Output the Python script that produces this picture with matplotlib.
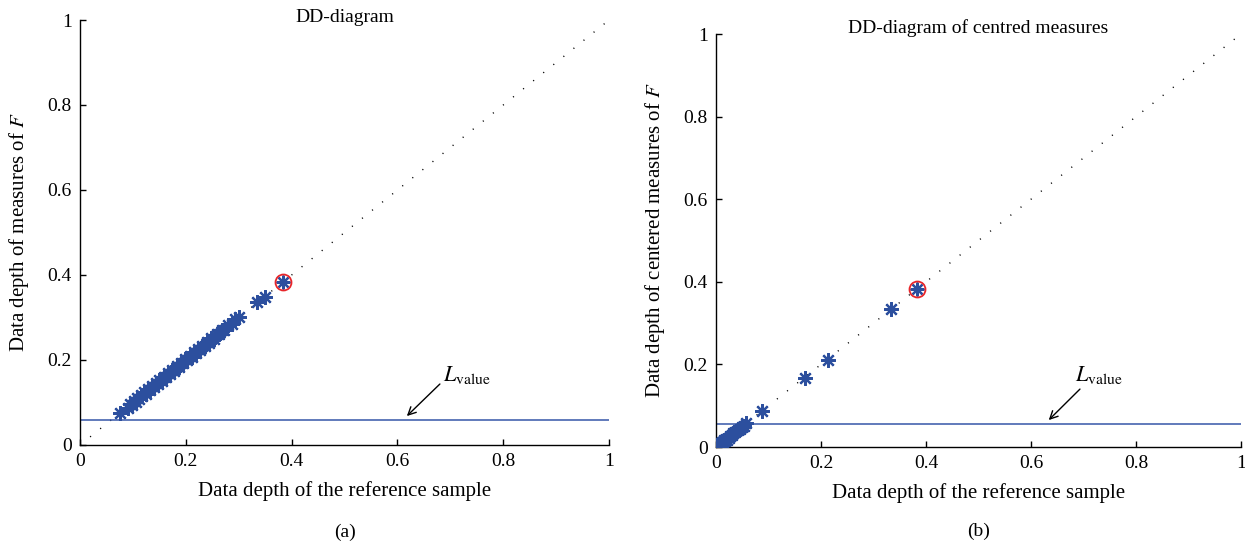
import matplotlib
matplotlib.use("Agg")
import matplotlib.pyplot as plt
from matplotlib.ticker import FormatStrFormatter

plt.rcParams['font.family'] = ['Liberation Serif', 'DejaVu Serif']
plt.rcParams['mathtext.fontset'] = 'stix'

# ---------------- data ----------------
ticks = [0, 0.2, 0.4, 0.6, 0.8, 1]

a_x = [0.075, 0.090, 0.095, 0.098, 0.102, 0.105, 0.108, 0.112, 0.115, 0.118,
       0.121, 0.125, 0.128, 0.132, 0.136, 0.140, 0.143, 0.147, 0.150, 0.154,
       0.158, 0.162, 0.166, 0.170, 0.174, 0.178, 0.183, 0.187, 0.191, 0.195,
       0.199, 0.203, 0.207, 0.211, 0.215, 0.219, 0.223, 0.227, 0.231, 0.236,
       0.240, 0.244, 0.248, 0.253, 0.258, 0.263, 0.268, 0.273, 0.280, 0.287,
       0.293, 0.300, 0.335, 0.350]
a_y = [0.076, 0.088, 0.097, 0.095, 0.104, 0.101, 0.110, 0.109, 0.118, 0.115,
       0.124, 0.121, 0.131, 0.129, 0.139, 0.137, 0.146, 0.144, 0.153, 0.151,
       0.161, 0.159, 0.169, 0.167, 0.177, 0.175, 0.186, 0.184, 0.194, 0.192,
       0.202, 0.200, 0.210, 0.208, 0.218, 0.216, 0.226, 0.224, 0.234, 0.233,
       0.243, 0.241, 0.251, 0.250, 0.261, 0.260, 0.271, 0.270, 0.283, 0.284,
       0.296, 0.302, 0.336, 0.349]
a_mark = (0.383, 0.383)
a_lvalue = 0.058

b_x = [0.000, 0.002, 0.003, 0.005, 0.006, 0.008, 0.010, 0.011, 0.013, 0.015,
       0.017, 0.019, 0.021, 0.024, 0.027, 0.030, 0.033, 0.037, 0.041, 0.045,
       0.049, 0.053, 0.058, 0.088, 0.170, 0.213, 0.333]
b_y = [0.001, 0.000, 0.004, 0.003, 0.008, 0.006, 0.010, 0.013, 0.012, 0.016,
       0.015, 0.020, 0.018, 0.023, 0.027, 0.029, 0.034, 0.036, 0.042, 0.044,
       0.049, 0.051, 0.057, 0.088, 0.168, 0.211, 0.334]
b_mark = (0.383, 0.383)
b_lvalue = 0.055

STAR = '#2c4f9e'
LINE = '#3556a8'

fig = plt.figure(figsize=(12.45, 5.48), dpi=100)
ax_a = fig.add_axes([0.0643, 0.1880, 0.4249, 0.7755])
ax_b = fig.add_axes([0.5751, 0.1843, 0.4217, 0.7536])

def draw(ax, xs, ys, mark, lval, title, ylabel, title_y, txt, tail, tip, caption):
    ax.plot([0, 1], [0, 1], color='black', lw=1.0, linestyle=(0, (0.8, 8.5)), zorder=1)
    ax.axhline(lval, color=LINE, lw=1.1, zorder=2)
    ax.plot(xs, ys, linestyle='none', marker=(8, 2, 0), markersize=10.5,
            mec=STAR, mew=1.6, zorder=3)
    ax.plot([mark[0]], [mark[1]], linestyle='none', marker=(8, 2, 0), markersize=10,
            mec=STAR, mew=1.6, zorder=3)
    ax.plot([mark[0]], [mark[1]], linestyle='none', marker='o', markersize=11.5,
            mfc='none', mec='#e8262a', mew=1.3, zorder=4)
    ax.set_xlim(0, 1)
    ax.set_ylim(0, 1)
    ax.set_xticks(ticks)
    ax.set_yticks(ticks)
    ax.xaxis.set_major_formatter(FormatStrFormatter('%g'))
    ax.yaxis.set_major_formatter(FormatStrFormatter('%g'))
    ax.tick_params(direction='in', length=4, width=1, labelsize=14, pad=6)
    for s in ['top', 'right']:
        ax.spines[s].set_visible(False)
    for s in ['left', 'bottom']:
        ax.spines[s].set_linewidth(1.0)
    ax.set_xlabel('Data depth of the reference sample', fontsize=15, labelpad=8)
    ax.set_ylabel(ylabel, fontsize=15, labelpad=12)
    ax.text(0.5, title_y, title, transform=ax.transAxes, ha='center', va='center', fontsize=14)
    ax.annotate('', xy=tip, xytext=tail,
                arrowprops=dict(arrowstyle='->', color='black', lw=1.0, mutation_scale=14))
    ax.text(txt[0], txt[1], r'$L_{\mathrm{value}}$', ha='left', va='center', fontsize=16)
    ax.text(0.5, -0.205, caption, transform=ax.transAxes, ha='center', va='center', fontsize=14)

draw(ax_a, a_x, a_y, a_mark, a_lvalue, 'DD-diagram', r'Data depth of measures of $F$',
     1.007, (0.686, 0.165), (0.684, 0.148), (0.614, 0.0635), '(a)')
draw(ax_b, b_x, b_y, b_mark, b_lvalue, 'DD-diagram of centred measures',
     r'Data depth of centered measures of $F$',
     1.015, (0.684, 0.174), (0.697, 0.145), (0.630, 0.0605), '(b)')

fig.savefig('out.png', dpi=100)
